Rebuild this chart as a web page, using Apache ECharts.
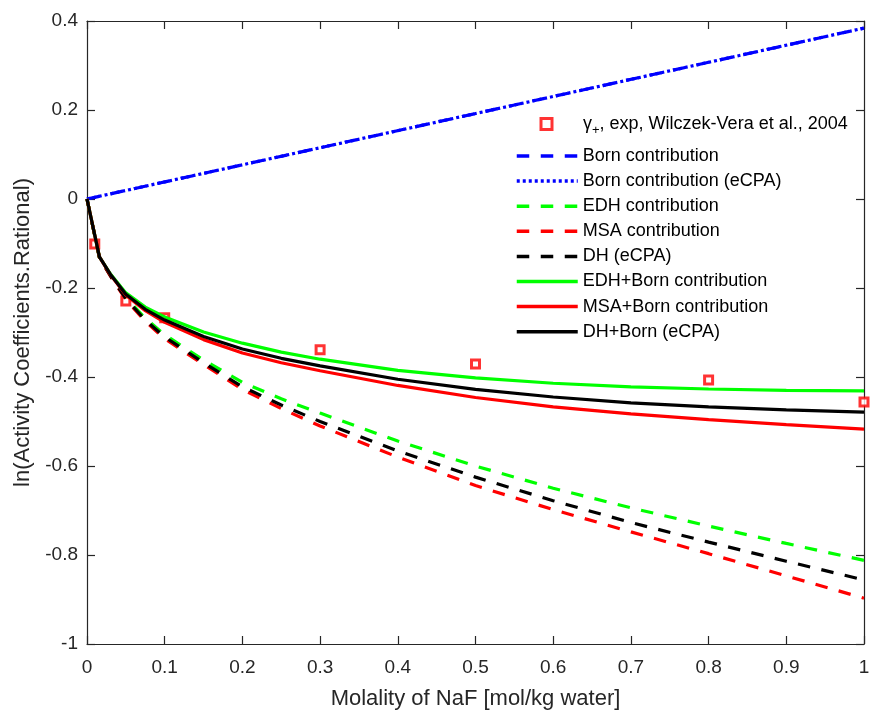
<!DOCTYPE html>
<html>
<head>
<meta charset="utf-8">
<script src="https://cdn.jsdelivr.net/npm/echarts@6/dist/echarts.min.js"></script>
<style>html,body{margin:0;padding:0;background:#fff;}#chart{width:873px;height:720px;}</style>
</head>
<body>
<div id="chart"></div>
<script>
// Molality grid used by the model curves
const molality = [0, 0.016, 0.03, 0.05, 0.075, 0.1, 0.15, 0.2, 0.25, 0.3, 0.4, 0.5, 0.6, 0.7, 0.8, 0.9, 1.0];
// Born contribution (linear)
const bornX = [0, 1.0];
const bornY = [0, 0.384];
const bornECPA = [0, 0.384];
// Individual electrostatic contributions (dashed)
const edh = [0, -0.132, -0.171, -0.222, -0.268, -0.305, -0.362, -0.412, -0.449, -0.481, -0.544, -0.600, -0.650, -0.694, -0.735, -0.774, -0.812];
const msa = [0, -0.132, -0.173, -0.226, -0.275, -0.314, -0.372, -0.428, -0.471, -0.510, -0.580, -0.644, -0.698, -0.748, -0.797, -0.847, -0.897];
const dh  = [0, -0.132, -0.172, -0.224, -0.272, -0.310, -0.368, -0.422, -0.463, -0.500, -0.566, -0.625, -0.678, -0.727, -0.771, -0.814, -0.856];
// Combined with Born (solid)
const edhBorn = [0, -0.130, -0.168, -0.211, -0.243, -0.265, -0.299, -0.324, -0.344, -0.360, -0.385, -0.402, -0.414, -0.422, -0.427, -0.430, -0.431];
const msaBorn = [0, -0.130, -0.170, -0.216, -0.251, -0.277, -0.316, -0.346, -0.368, -0.386, -0.419, -0.446, -0.467, -0.483, -0.496, -0.507, -0.517];
const dhBorn  = [0, -0.130, -0.169, -0.214, -0.248, -0.272, -0.309, -0.337, -0.358, -0.375, -0.405, -0.428, -0.445, -0.458, -0.467, -0.474, -0.479];
// Experimental data
const expX = [0.01, 0.05, 0.1, 0.3, 0.5, 0.8, 1.0];
const expY = [-0.101, -0.229, -0.267, -0.339, -0.371, -0.407, -0.456];

const xTicks = {min: 0, max: 1, interval: 0.1};
const yTicks = {min: -1, max: 0.4, interval: 0.2};

function pairs(xs, ys) { return xs.map((v, i) => [v, ys[i]]); }

const axisColor = '#262626';
const font = 'Liberation Sans, Arial, Helvetica, sans-serif';
const dashPattern = [12.5, 11.5];

function lineSeries(name, ys, xs, color, type, z) {
  return {
    name: name, type: 'line', data: pairs(xs, ys), showSymbol: false, symbol: 'none',
    lineStyle: {color: color, width: 3.2, type: type, cap: 'butt'},
    itemStyle: {color: color}, animation: false, z: z, silent: true
  };
}

const chart = echarts.init(document.getElementById('chart'), null, {renderer: 'canvas'});
const expName = 'exp';
const tickStyle = {show: true, inside: true, length: 8, lineStyle: {color: axisColor, width: 1.2}};
const lineAxis = {show: true, onZero: false, lineStyle: {color: axisColor, width: 1.2}};
const option = {
  animation: false,
  backgroundColor: '#fff',
  grid: {left: 87, right: 9, top: 21, bottom: 76, containLabel: false},
  xAxis: [{
    type: 'value', min: xTicks.min, max: xTicks.max, interval: xTicks.interval,
    name: 'Molality of NaF [mol/kg water]', nameLocation: 'middle', nameGap: 44,
    nameTextStyle: {color: axisColor, fontSize: 22, fontFamily: font},
    axisLine: lineAxis, axisTick: tickStyle,
    axisLabel: {color: axisColor, fontSize: 19, fontFamily: font, margin: 14},
    splitLine: {show: false}
  }, {
    type: 'value', position: 'top', min: xTicks.min, max: xTicks.max, interval: xTicks.interval,
    axisLine: lineAxis, axisTick: tickStyle,
    axisLabel: {show: false}, splitLine: {show: false}
  }],
  yAxis: [{
    type: 'value', min: yTicks.min, max: yTicks.max, interval: yTicks.interval,
    name: 'ln(Activity Coefficients.Rational)', nameLocation: 'middle', nameGap: 44,
    nameTextStyle: {color: axisColor, fontSize: 22, fontFamily: font},
    axisLine: lineAxis, axisTick: tickStyle,
    axisLabel: {color: axisColor, fontSize: 19, fontFamily: font, margin: 9},
    splitLine: {show: false}
  }, {
    type: 'value', position: 'right', min: yTicks.min, max: yTicks.max, interval: yTicks.interval,
    axisLine: lineAxis, axisTick: tickStyle,
    axisLabel: {show: false}, splitLine: {show: false}
  }],
  legend: [{
    data: [expName],
    left: 539.5, top: 115, padding: 0, itemWidth: 11, itemHeight: 11,
    itemStyle: {color: '#fff', borderColor: '#ff0000', borderWidth: 3},
    formatter: function () { return 'γ{sub|+}, exp, Wilczek-Vera et al., 2004'; },
    textStyle: {color: '#000', fontSize: 18, fontFamily: font, padding: [0, 0, 0, 26],
      rich: {sub: {fontSize: 13, padding: [12, 0, 0, 0], fontFamily: font, color: '#000'}}},
    selectedMode: false
  }, {
    data: ['Born contribution', 'Born contribution (eCPA)', 'EDH contribution', 'MSA contribution', 'DH (eCPA)',
           'EDH+Born contribution', 'MSA+Born contribution', 'DH+Born (eCPA)'],
    orient: 'vertical', left: 515, top: 147, padding: 0, itemWidth: 61, itemHeight: 14, itemGap: 7.1,
    itemStyle: {opacity: 0},
    lineStyle: {width: 3.5},
    textStyle: {color: '#000', fontSize: 18, lineHeight: 18, fontFamily: font},
    selectedMode: false
  }],
  series: [
    {
      name: expName, type: 'scatter', data: pairs(expX, expY),
      symbol: 'rect', symbolSize: 8,
      itemStyle: {color: '#fff', borderColor: '#ff0000', borderWidth: 3},
      z: 1, silent: true
    },
    lineSeries('Born contribution', bornY, bornX, '#0000ff', dashPattern, 2),
    lineSeries('Born contribution (eCPA)', bornECPA, bornX, '#0000ff', [3, 3], 3),
    lineSeries('EDH contribution', edh, molality, '#00ff00', dashPattern, 4),
    lineSeries('MSA contribution', msa, molality, '#ff0000', dashPattern, 5),
    lineSeries('DH (eCPA)', dh, molality, '#000000', dashPattern, 6),
    lineSeries('EDH+Born contribution', edhBorn, molality, '#00ff00', 'solid', 7),
    lineSeries('MSA+Born contribution', msaBorn, molality, '#ff0000', 'solid', 8),
    lineSeries('DH+Born (eCPA)', dhBorn, molality, '#000000', 'solid', 9)
  ]
};
chart.setOption(option);
</script>
</body>
</html>
